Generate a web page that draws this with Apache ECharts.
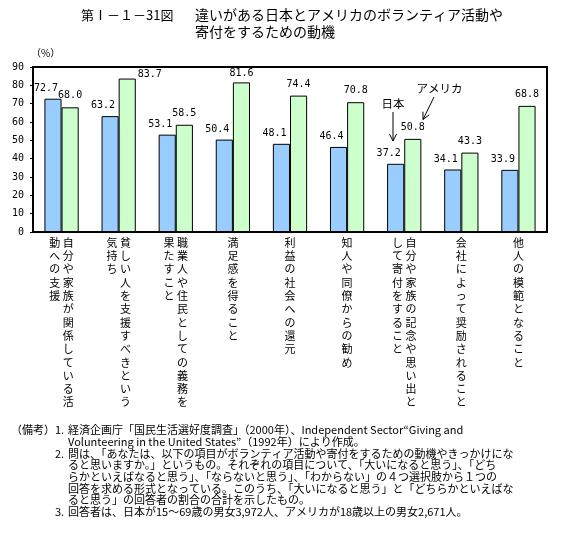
<!DOCTYPE html>
<html><head><meta charset="utf-8">
<script src="https://cdn.jsdelivr.net/npm/echarts@6/dist/echarts.min.js"></script>
<style>html,body{margin:0;padding:0;background:#fff}#c{width:567px;height:543px}</style>
</head><body><div id="c"></div>
<script>
// ---- data ----
const categories = [
  '自分や家族が関係している活動への支援',
  '貧しい人を支援すべきという気持ち',
  '職業人や住民としての義務を果たすこと',
  '満足感を得ること',
  '利益の社会への還元',
  '知人や同僚からの勧め',
  '自分や家族の記念や思い出として寄付をすること',
  '会社によって奨励されること',
  '他人の模範となること'
];
const japan = [72.7, 63.2, 53.1, 50.4, 48.1, 46.4, 37.2, 34.1, 33.9];
const usa   = [68.0, 83.7, 58.5, 81.6, 74.4, 70.8, 50.8, 43.3, 68.8];
const seriesNames = ['日本', 'アメリカ'];
const yMin = 0, yMax = 90, yStep = 10;
const titleNumber = '第Ⅰ－１－31図';
const titleText = '違いがある日本とアメリカのボランティア活動や\n寄付をするための動機';
const unitText = '（%）';
const noteHead = '（備考）';
const noteNums = ['1.', '2.', '3.'];
const noteLines = [
  ['経済企画庁「国民生活選好度調査」（2000年）、Independent Sector“Giving and',
   'Volunteering in the United States”（1992年）により作成。'],
  ['問は、「あなたは、以下の項目がボランティア活動や寄付をするための動機やきっかけにな',
   'ると思いますか。」というもの。それぞれの項目について、「大いになると思う」、「どち',
   'らかといえばなると思う」、「ならないと思う」、「わからない」の４つ選択肢から１つの',
   '回答を求める形式となっている。このうち、「大いになると思う」と「どちらかといえばな',
   'ると思う」の回答者の割合の合計を示したもの。'],
  ['回答者は、日本が15～69歳の男女3,972人、アメリカが18歳以上の男女2,671人。']
];

// ---- chart ----
const JP = '"Noto Sans CJK JP", sans-serif';
const MONO = '"DejaVu Sans Mono", monospace';
const COL = 13;

function catLabel(name) {
  const c1 = name.slice(0, COL), c2 = name.slice(COL);
  const lines = [];
  for (let i = 0; i < c1.length; i++) {
    if (c2.length) {
      lines.push('{c|' + (c2[i] || '　') + '}{c|' + c1[i] + '}');
    } else {
      lines.push('{c|' + c1[i] + '}');
    }
  }
  return lines.join('\n');
}

const labelBase = {
  show: true, fontFamily: MONO, fontSize: 10, color: '#000',
  formatter: p => Number(p.value).toFixed(1)
};

const chart = echarts.init(document.getElementById('c'), null, {renderer: 'canvas'});

function arrow(x1, y1, x2, y2) {
  const dx = x2 - x1, dy = y2 - y1, L = Math.hypot(dx, dy);
  const ux = dx / L, uy = dy / L, h = 7, w = 3.5;
  const bx = x2 - ux * h, by = y2 - uy * h;
  return [
    {type: 'line', shape: {x1, y1, x2, y2}, style: {stroke: '#000', lineWidth: 1}},
    {type: 'polyline', shape: {points: [[bx - uy * w, by + ux * w], [x2, y2], [bx + uy * w, by - ux * w]]},
     style: {stroke: '#000', lineWidth: 1, fill: null}}
  ];
}

const NOTE_FONT = '11px ' + JP;
const graphics = [
  {type: 'text', x: 81, y: 15, style: {text: titleNumber, font: '13px ' + JP, fill: '#000', textVerticalAlign: 'middle'}},
  {type: 'text', x: 195, y: 6.5, style: {text: titleText, font: '14px ' + JP, lineHeight: 17, fill: '#000', textVerticalAlign: 'top'}},
  {type: 'text', x: 31, y: 53, style: {text: unitText, font: '10px ' + JP, fill: '#000', textVerticalAlign: 'middle'}},
  {type: 'text', x: 393, y: 104, style: {text: seriesNames[0], font: '11.5px ' + JP, fill: '#000', textAlign: 'center', textVerticalAlign: 'middle'}},
  {type: 'text', x: 439.5, y: 89, style: {text: seriesNames[1], font: '11.5px ' + JP, fill: '#000', textAlign: 'center', textVerticalAlign: 'middle'}},
  ...arrow(393, 112, 393, 141),
  ...arrow(434, 97, 423, 119.5),
  {type: 'text', x: 11, y: 430, style: {text: noteHead, font: NOTE_FONT, fill: '#000', textVerticalAlign: 'middle'}}
];
let ly = 430;
const pitch = 11.67;
noteLines.forEach((grp, gi) => {
  graphics.push({type: 'text', x: 55, y: ly, style: {text: noteNums[gi], font: NOTE_FONT, fill: '#000', textVerticalAlign: 'middle'}});
  grp.forEach(t => {
    graphics.push({type: 'text', x: 68, y: ly, style: {text: t, font: NOTE_FONT, fill: '#000', textVerticalAlign: 'middle'}});
    ly += pitch;
  });
});

function usLabel(v) {
  if (v > 83) return {value: v, label: {position: ['100%', 0], offset: [2, -4], align: 'left', verticalAlign: 'middle'}};
  if (v > 80) return {value: v, label: {distance: 3.5}};
  return v;
}

chart.setOption({
  animation: false,
  backgroundColor: '#fff',
  grid: {left: 33, right: 20, top: 67, bottom: 311, show: true, borderColor: '#000', borderWidth: 2, backgroundColor: 'transparent'},
  xAxis: {
    type: 'category', data: categories,
    axisLine: {lineStyle: {color: '#000', width: 2}},
    axisTick: {inside: true, length: 3, lineStyle: {color: '#000'}},
    axisLabel: {
      interval: 0, margin: 4, color: '#000', formatter: catLabel,
      rich: {c: {fontFamily: JP, fontSize: 11, lineHeight: 13.3, width: 13.5, align: 'center', color: '#000'}}
    }
  },
  yAxis: {
    type: 'value', min: yMin, max: yMax, interval: yStep,
    axisLine: {show: true, lineStyle: {color: '#000', width: 2}},
    axisTick: {show: true, length: 3, lineStyle: {color: '#000'}},
    splitLine: {show: false},
    axisLabel: {color: '#000', fontFamily: MONO, fontSize: 10, margin: 9}
  },
  series: [
    {
      name: seriesNames[0], type: 'bar', data: japan,
      barGap: '0%', barCategoryGap: '40%',
      itemStyle: {color: '#99CCFF', borderColor: '#000', borderWidth: 1},
      label: Object.assign({}, labelBase, {position: 'top', distance: 5.5, offset: [-7, 0]})
    },
    {
      name: seriesNames[1], type: 'bar',
      data: usa.map(usLabel),
      barGap: '0%', barCategoryGap: '40%',
      itemStyle: {color: '#CCFFCC', borderColor: '#000', borderWidth: 1},
      label: Object.assign({}, labelBase, {position: 'top', distance: 6.5, offset: [0, 0]})
    }
  ],
  graphic: graphics
});
</script>
</body></html>
